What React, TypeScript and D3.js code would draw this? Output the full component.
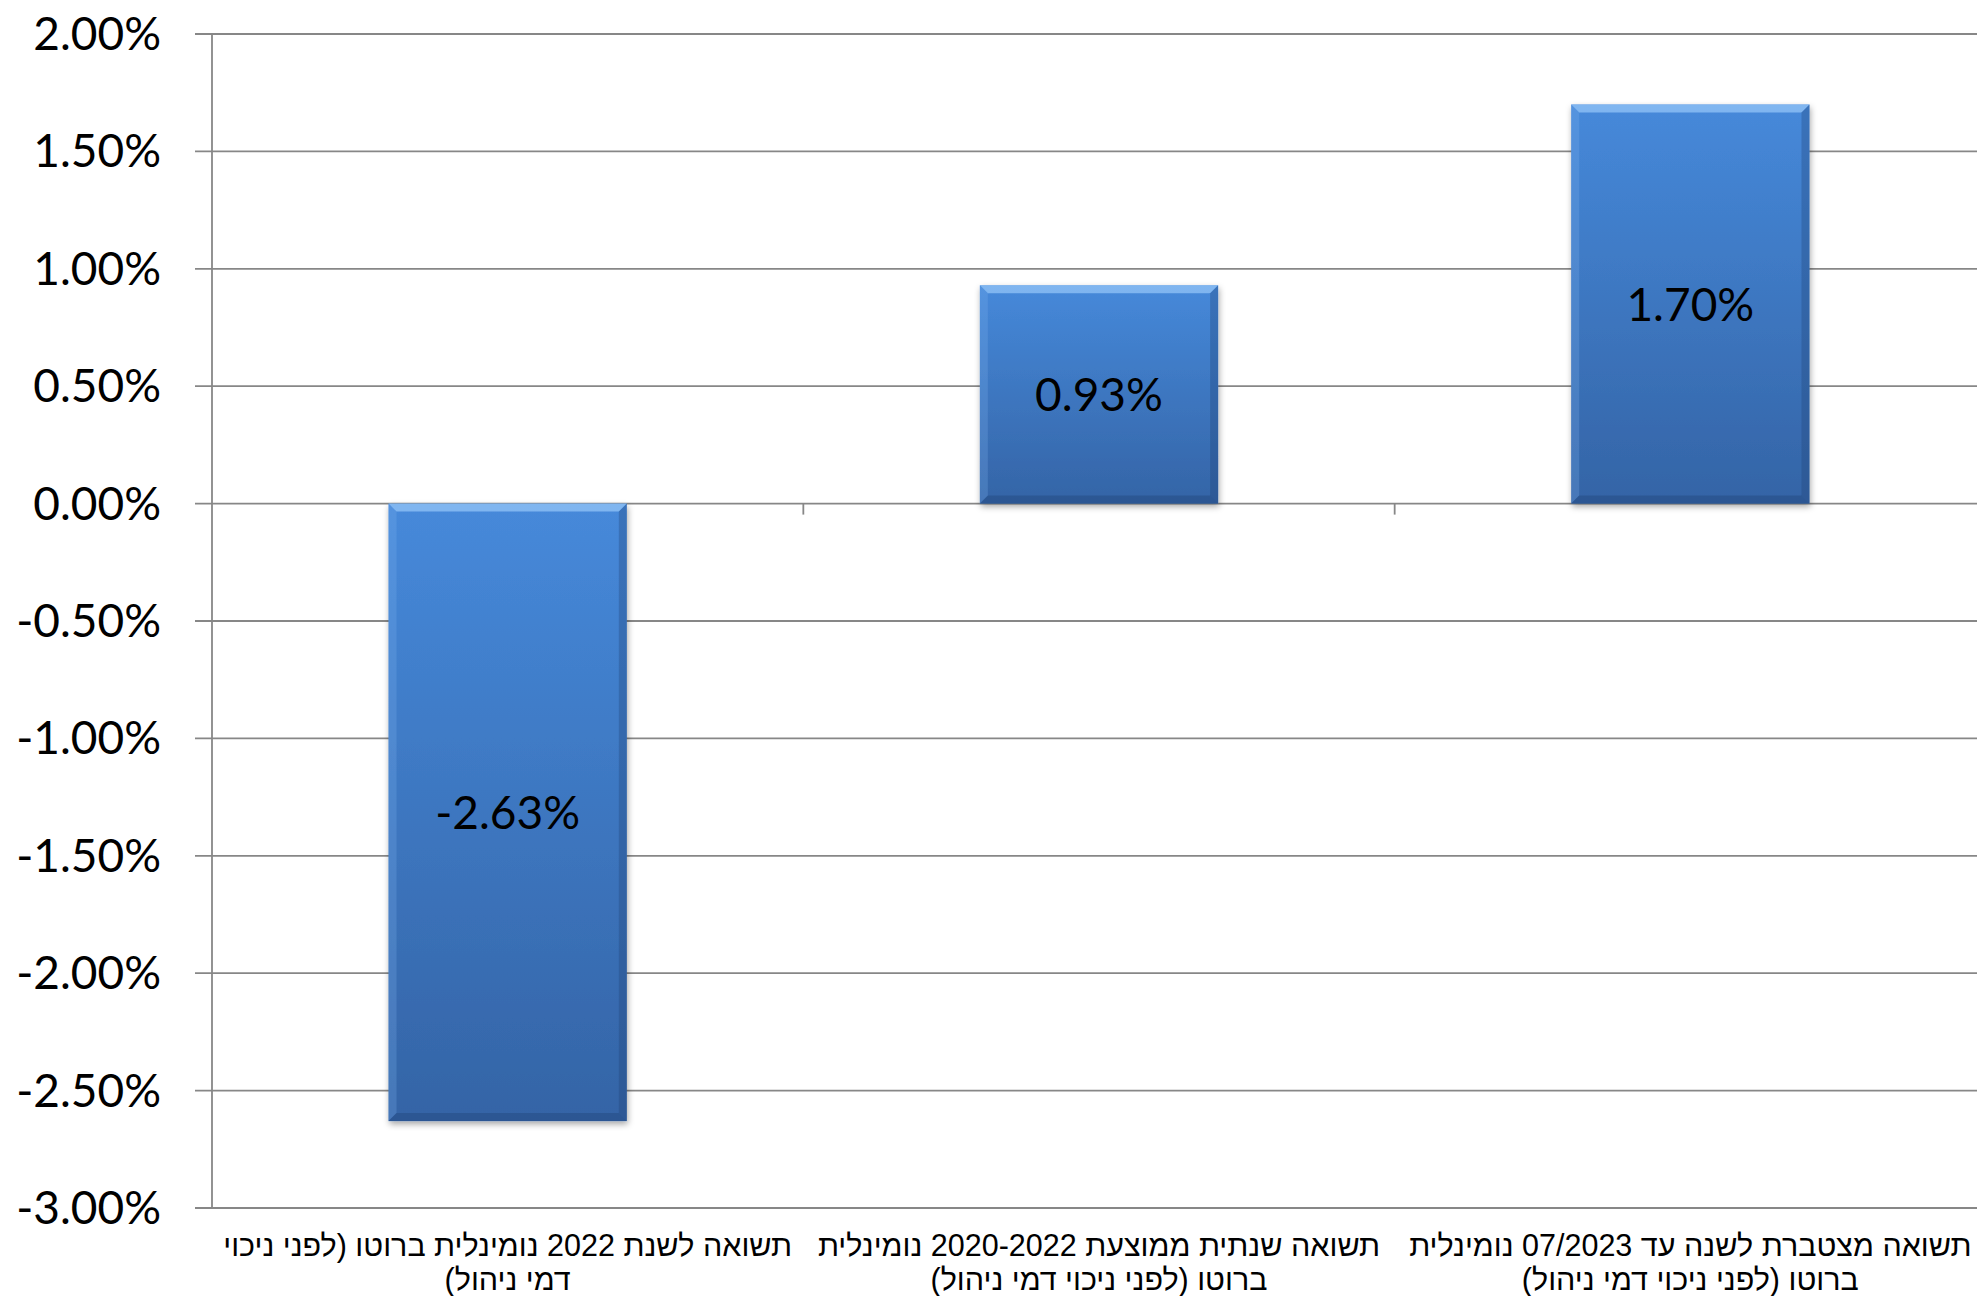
import React, { useEffect, useRef } from 'react';
import * as d3 from 'd3';

// Datos del gráfico
const categories: string[][] = [
  ['תשואה לשנת 2022 נומינלית ברוטו (לפני ניכוי', 'דמי ניהול)'],
  ['תשואה שנתית ממוצעת 2020-2022 נומינלית', 'ברוטו (לפני ניכוי דמי ניהול)'],
  ['תשואה מצטברת לשנה עד 07/2023 נומינלית', 'ברוטו (לפני ניכוי דמי ניהול)'],
];
const values: number[] = [-2.63, 0.93, 1.7];
const yTicks: number[] = [-3, -2.5, -2, -1.5, -1, -0.5, 0, 0.5, 1, 1.5, 2];

const App: React.FC = () => {
  const GraphicRef = useRef<SVGSVGElement>(null);

  useEffect(() => {
    document.body.style.margin = '0';
    const chartNode = GraphicRef.current;

    const width = 1977;
    const height = 1296;
    const plotLeft = 212;
    const plotRight = 1986;
    const plotTop = 34;
    const plotBottom = 1208;
    const gridColor = '#878787';
    const numFont = 'Lato, "Open Sans", sans-serif';
    const labelFont = '"Liberation Sans", "DejaVu Sans", sans-serif';

    const svg = d3.select(chartNode).attr('width', width).attr('height', height);
    svg.selectAll('*').remove();

    const idx = categories.map((_, i) => String(i));
    const xScale = d3
      .scaleBand()
      .domain(idx)
      .range([plotLeft, plotRight])
      .paddingInner(0.597)
      .paddingOuter(0.2985);

    const yScale = d3.scaleLinear().domain([-3, 2]).range([plotBottom, plotTop]);

    // Definiciones: degradado y sombra
    const defs = svg.append('defs');
    const grad = defs
      .append('linearGradient')
      .attr('id', 'barGrad')
      .attr('x1', 0)
      .attr('y1', 0)
      .attr('x2', 0)
      .attr('y2', 1);
    grad.append('stop').attr('offset', '0%').attr('stop-color', '#4689da');
    grad.append('stop').attr('offset', '100%').attr('stop-color', '#3464a6');

    const shadow = defs
      .append('filter')
      .attr('id', 'barShadow')
      .attr('x', '-10%')
      .attr('y', '-10%')
      .attr('width', '120%')
      .attr('height', '120%');
    shadow
      .append('feDropShadow')
      .attr('dx', 1)
      .attr('dy', 3)
      .attr('stdDeviation', 3)
      .attr('flood-color', '#000')
      .attr('flood-opacity', 0.35);

    // Líneas de la cuadrícula
    svg
      .append('g')
      .selectAll('line')
      .data(yTicks)
      .enter()
      .append('line')
      .attr('x1', plotLeft - 17)
      .attr('x2', width)
      .attr('y1', (d) => yScale(d))
      .attr('y2', (d) => yScale(d))
      .attr('stroke', gridColor)
      .attr('stroke-width', 1.8);

    // Eje vertical
    svg
      .append('line')
      .attr('x1', plotLeft)
      .attr('x2', plotLeft)
      .attr('y1', plotTop)
      .attr('y2', plotBottom)
      .attr('stroke', gridColor)
      .attr('stroke-width', 1.8);

    // Marcas entre categorías sobre la línea de cero
    const step = xScale.step();
    svg
      .append('g')
      .selectAll('line')
      .data(d3.range(1, categories.length))
      .enter()
      .append('line')
      .attr('x1', (i) => plotLeft + i * step)
      .attr('x2', (i) => plotLeft + i * step)
      .attr('y1', yScale(0))
      .attr('y2', yScale(0) + 11)
      .attr('stroke', gridColor)
      .attr('stroke-width', 1.8);

    // Etiquetas del eje Y
    svg
      .append('g')
      .selectAll('text')
      .data(yTicks)
      .enter()
      .append('text')
      .attr('x', 161)
      .attr('y', (d) => yScale(d) + 16)
      .attr('text-anchor', 'end')
      .style('font-family', numFont)
      .style('font-size', '46px')
      .attr('fill', '#000')
      .text((d) => `${d.toFixed(2)}%`);

    // Barras con bisel
    const bevel = 8;
    const bars = svg
      .append('g')
      .selectAll('g')
      .data(values)
      .enter()
      .append('g');

    bars.each(function (d, i) {
      const g = d3.select(this);
      const x0 = xScale(String(i)) || 0;
      const x1 = x0 + xScale.bandwidth();
      const y0 = yScale(Math.max(0, d));
      const y1 = yScale(Math.min(0, d));
      g.append('rect')
        .attr('x', x0)
        .attr('y', y0)
        .attr('width', x1 - x0)
        .attr('height', y1 - y0)
        .attr('fill', 'url(#barGrad)')
        .attr('filter', 'url(#barShadow)');
      const poly = (pts: [number, number][], fill: string, op: number) =>
        g.append('polygon')
          .attr('points', pts.map((p) => p.join(',')).join(' '))
          .attr('fill', fill)
          .attr('fill-opacity', op);
      poly([[x0, y0], [x1, y0], [x1 - bevel, y0 + bevel], [x0 + bevel, y0 + bevel]], '#a6d4ff', 0.6);
      poly([[x0, y0], [x0 + bevel, y0 + bevel], [x0 + bevel, y1 - bevel], [x0, y1]], '#7fb4f0', 0.25);
      poly([[x1, y0], [x1, y1], [x1 - bevel, y1 - bevel], [x1 - bevel, y0 + bevel]], '#1d3f70', 0.3);
      poly([[x0, y1], [x0 + bevel, y1 - bevel], [x1 - bevel, y1 - bevel], [x1, y1]], '#1d3f70', 0.35);
    });

    // Etiquetas de datos
    svg
      .append('g')
      .selectAll('text')
      .data(values)
      .enter()
      .append('text')
      .attr('x', (_, i) => (xScale(String(i)) || 0) + xScale.bandwidth() / 2)
      .attr('y', (d) => (yScale(0) + yScale(d)) / 2 + 17)
      .attr('text-anchor', 'middle')
      .style('font-family', numFont)
      .style('font-size', '46px')
      .attr('fill', '#000')
      .text((d) => `${d.toFixed(2)}%`);

    // Etiquetas de categorías
    const catG = svg
      .append('g')
      .selectAll('text')
      .data(categories)
      .enter()
      .append('text')
      .attr('direction', 'rtl')
      .attr('text-anchor', 'middle')
      .style('font-family', labelFont)
      .style('font-size', '30.5px')
      .attr('fill', '#000');
    catG
      .selectAll('tspan')
      .data((d, i) => d.map((line) => ({ line, i })))
      .enter()
      .append('tspan')
      .attr('x', (d) => (xScale(String(d.i)) || 0) + xScale.bandwidth() / 2)
      .attr('y', (_, j) => 1256 + j * 34)
      .text((d) => d.line);
  }, []);

  return <svg ref={GraphicRef} style={{ display: 'block' }}></svg>;
};

export default App;
